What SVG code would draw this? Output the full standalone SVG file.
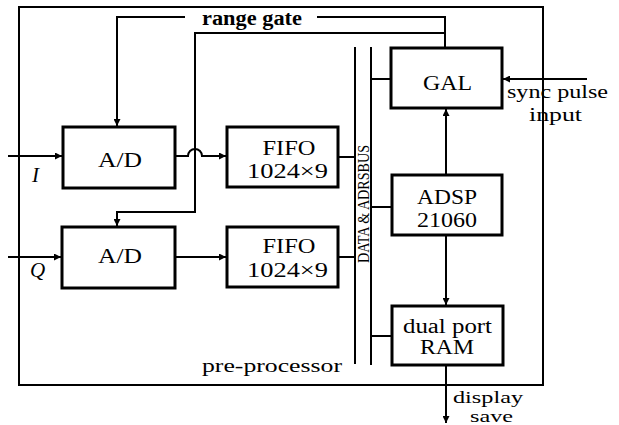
<svg xmlns="http://www.w3.org/2000/svg" width="619" height="425" viewBox="0 0 619 425">
<defs>
<style>
.box{fill:#fff;stroke:#000;stroke-width:3}
.ln{fill:none;stroke:#000;stroke-width:2}
.frame{fill:none;stroke:#000;stroke-width:2}
text{font-family:"Liberation Serif","Times New Roman",serif;fill:#000}
.bl{font-size:20px;text-anchor:middle}
.lb{font-size:19px}
.sm{font-size:17px}
.it{font-size:21px;font-style:italic}
.bus{font-size:16px;text-anchor:middle}
</style>
<marker id="ah" viewBox="0 0 10 10" refX="10" refY="5" markerWidth="8" markerHeight="7" markerUnits="userSpaceOnUse" orient="auto">
<path d="M0,0 L10,5 L0,10 z" fill="#000"/>
</marker>
</defs>
<rect width="619" height="425" fill="#fff"/>
<g id="frame">
<rect class="frame" x="19" y="7" width="524" height="378"/>
<text class="lb" x="202" y="372" textLength="140" lengthAdjust="spacingAndGlyphs">pre-processor</text>
</g>
<g id="connectors">
<path class="ln" d="M185,17 H117 V126" marker-end="url(#ah)"/>
<path class="ln" d="M317,17 H445 V48"/>
<path class="ln" d="M445,33 H195 V212 H117 V226" marker-end="url(#ah)"/>
<path class="ln" d="M8,156 H62" marker-end="url(#ah)"/>
<path class="ln" d="M8,257 H61" marker-end="url(#ah)"/>
<path class="ln" d="M175,156 H188 A7,7 0 0 1 202,156 H226" marker-end="url(#ah)"/>
<path class="ln" d="M175,257 H226" marker-end="url(#ah)"/>
<path class="ln" d="M355,47 V364"/>
<path class="ln" d="M371,47 V365"/>
<path class="ln" d="M338,157 H355"/>
<path class="ln" d="M338,257 H355"/>
<path class="ln" d="M371,79 H391"/>
<path class="ln" d="M371,207 H392"/>
<path class="ln" d="M371,336 H392"/>
<path class="ln" d="M587,79 H503" marker-end="url(#ah)"/>
<path class="ln" d="M446,175 V109" marker-end="url(#ah)"/>
<path class="ln" d="M446,235 V305" marker-end="url(#ah)"/>
<path class="ln" d="M446,365 V423" marker-end="url(#ah)"/>
</g>
<g id="labels">
<text x="202" y="25" font-size="20" font-weight="bold" textLength="100" lengthAdjust="spacingAndGlyphs">range gate</text>
<text class="lb" x="507" y="98" textLength="101" lengthAdjust="spacingAndGlyphs">sync pulse</text>
<text class="lb" x="529" y="121" textLength="53" lengthAdjust="spacingAndGlyphs">input</text>
<text class="sm" x="453" y="403" textLength="70" lengthAdjust="spacingAndGlyphs">display</text>
<text class="sm" x="470" y="422" textLength="43" lengthAdjust="spacingAndGlyphs">save</text>
<text class="it" x="32" y="182">I</text>
<text class="it" x="30" y="277">Q</text>
<text class="bus" transform="translate(369,204) rotate(-90)" textLength="118" lengthAdjust="spacingAndGlyphs">DATA &amp; ADRSBUS</text>
</g>
<g id="ad-i">
<rect class="box" x="63" y="127" width="112" height="61"/>
<text class="bl" x="120" y="167" textLength="44" lengthAdjust="spacingAndGlyphs">A/D</text>
</g>
<g id="ad-q">
<rect class="box" x="62" y="227" width="113" height="61"/>
<text class="bl" x="120" y="263" textLength="44" lengthAdjust="spacingAndGlyphs">A/D</text>
</g>
<g id="fifo-1">
<rect class="box" x="227" y="127" width="111" height="60"/>
<text class="bl" x="289" y="155" textLength="53" lengthAdjust="spacingAndGlyphs">FIFO</text>
<text class="bl" x="287.5" y="178" textLength="81" lengthAdjust="spacingAndGlyphs">1024×9</text>
</g>
<g id="fifo-2">
<rect class="box" x="227" y="227" width="111" height="60"/>
<text class="bl" x="289" y="253" textLength="53" lengthAdjust="spacingAndGlyphs">FIFO</text>
<text class="bl" x="287.5" y="277" textLength="81" lengthAdjust="spacingAndGlyphs">1024×9</text>
</g>
<g id="gal">
<rect class="box" x="391" y="48" width="111" height="60"/>
<text class="bl" x="447.5" y="90" textLength="49" lengthAdjust="spacingAndGlyphs">GAL</text>
</g>
<g id="adsp">
<rect class="box" x="392" y="175" width="110" height="60"/>
<text class="bl" x="447" y="204" textLength="60" lengthAdjust="spacingAndGlyphs">ADSP</text>
<text class="bl" x="447" y="227" textLength="60" lengthAdjust="spacingAndGlyphs">21060</text>
</g>
<g id="ram">
<rect class="box" x="392" y="306" width="111" height="59"/>
<text class="bl" x="447.5" y="333" font-size="19" textLength="89" lengthAdjust="spacingAndGlyphs">dual port</text>
<text class="bl" x="447" y="354" font-size="19" textLength="54" lengthAdjust="spacingAndGlyphs">RAM</text>
</g>
</svg>
